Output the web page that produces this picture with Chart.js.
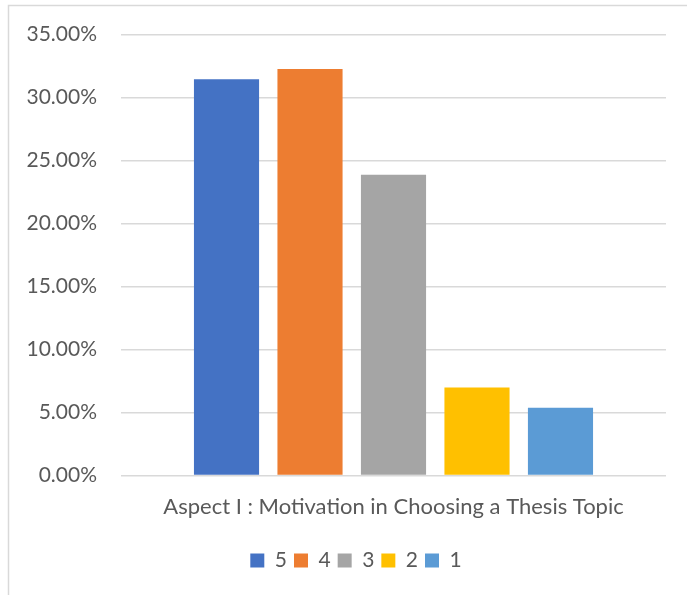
<!DOCTYPE html>
<html>
<head>
<meta charset="utf-8">
<script src="https://cdn.jsdelivr.net/npm/chart.js@4/dist/chart.umd.min.js"></script>
<style>
  html, body { margin: 0; padding: 0; background: #ffffff; }
  #wrap { position: relative; width: 687px; height: 595px; }
</style>
</head>
<body>
<div id="wrap"><canvas id="chart" width="687" height="595"></canvas></div>
<script>
// Survey response shares for one aspect, one bar per rating score
const categories = ['Aspect I : Motivation in Choosing a Thesis Topic'];
const ratingLabels = ['5', '4', '3', '2', '1'];
const ratingShares = [31.45, 32.26, 23.87, 6.99, 5.38];   // percent
const ratingColors = ['#4472C4', '#ED7D31', '#A5A5A5', '#FFC000', '#5B9BD5'];
const yTicks = { min: 0, max: 35, step: 5 };

const FONT = 'Lato, "Open Sans", sans-serif';
const TEXT = '#595959';
const GRID = '#d9d9d9';

// light frame along the top and left edges of the chart area
const framePlugin = {
  id: 'frame',
  beforeDraw(chart) {
    const ctx = chart.ctx;
    ctx.save();
    ctx.strokeStyle = GRID;
    ctx.lineWidth = 1.5;
    ctx.beginPath();
    ctx.moveTo(8.5, chart.height + 2);
    ctx.lineTo(8.5, 5.5);
    ctx.lineTo(chart.width + 2, 5.5);
    ctx.stroke();
    ctx.restore();
  }
};

// centre the legend row under the framed area rather than the full canvas
const legendShift = {
  id: 'legendShift',
  afterLayout(chart) {
    const lg = chart.legend;
    if (lg) { lg.left += 23; lg.right += 23; }
  }
};

const datasets = ratingLabels.map((label, i) => ({
  label: label,
  data: [ratingShares[i]],
  backgroundColor: ratingColors[i],
  borderWidth: 0,
  categoryPercentage: 0.766,
  barPercentage: 0.78
}));

new Chart(document.getElementById('chart'), {
  type: 'bar',
  data: { labels: categories, datasets: datasets },
  plugins: [framePlugin, legendShift],
  options: {
    responsive: false,
    animation: false,
    devicePixelRatio: 1,
    layout: { padding: { top: 24, right: 21, left: 0, bottom: 14 } },
    plugins: {
      tooltip: { enabled: false },
      legend: {
        position: 'bottom',
        labels: {
          boxWidth: 14,
          boxHeight: 14,
          color: TEXT,
          font: { family: FONT, size: 21 },
          padding: 7
        }
      }
    },
    scales: {
      x: {
        afterFit(scale) { scale.height += 4; },
        grid: { display: false, drawTicks: false },
        border: { display: false },
        ticks: {
          color: TEXT,
          font: { family: FONT, size: 22 },
          padding: 18.5
        }
      },
      y: {
        min: yTicks.min,
        max: yTicks.max,
        afterFit(scale) { scale.width = 121; },
        grid: { color: GRID, lineWidth: 1.5, drawTicks: false },
        border: { display: false },
        ticks: {
          stepSize: yTicks.step,
          color: TEXT,
          font: { family: FONT, size: 21, lineHeight: 1 },
          padding: 24,
          callback: v => v.toFixed(2) + '%'
        }
      }
    }
  }
});
</script>
</body>
</html>
